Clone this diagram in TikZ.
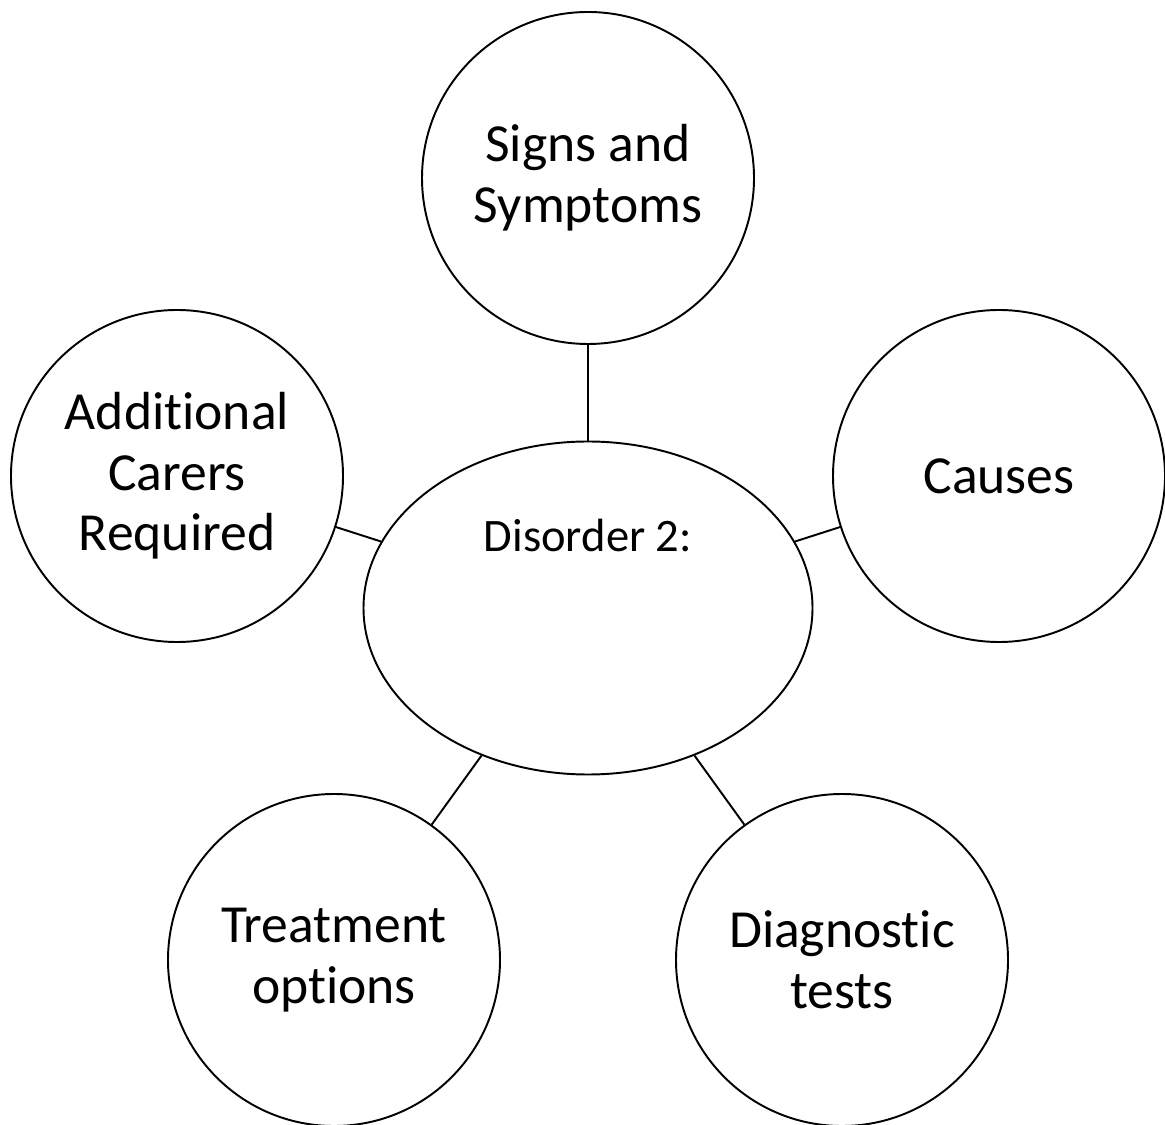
\documentclass[tikz,border=0pt]{standalone}
\usepackage{fontspec}
\setmainfont{Carlito}[Ligatures={NoCommon}]
\usetikzlibrary{shapes.geometric, positioning}

\begin{document}
\begin{tikzpicture}[-,line width=1.1pt,
                    topic node/.style={circle,draw,inner sep=0pt,minimum size=6.64cm,align=center,
                                       font=\fontsize{30.5}{34.5}\selectfont},
                    main node/.style={ellipse,draw,inner sep=0pt,minimum width=8.98cm,minimum height=6.66cm}]

        \useasboundingbox (0,0) rectangle (23.3,22.48);

        \node[main node] (disorder) at (11.76,10.32) {};
        \node[font=\fontsize{26.5}{31}\selectfont] (title) at (11.76,11.76) {Disorder 2:};

        \node[topic node] (signs) at (11.76,18.92) {Signs and\\Symptoms};
        \node[topic node] (carers) at (3.54,12.96) {Additional\\Carers\\Required};
        \node[topic node] (causes) at (19.98,12.96) {Causes};
        \node[topic node] (treatment) at (6.68,3.28) {Treatment\\options};
        \node[topic node] (tests) at (16.84,3.28) {Diagnostic\\tests};

        \path
            (disorder) edge (signs)
            (disorder) edge (carers)
            (disorder) edge (causes)
            (disorder) edge (treatment)
            (disorder) edge (tests);
\end{tikzpicture}
\end{document}
